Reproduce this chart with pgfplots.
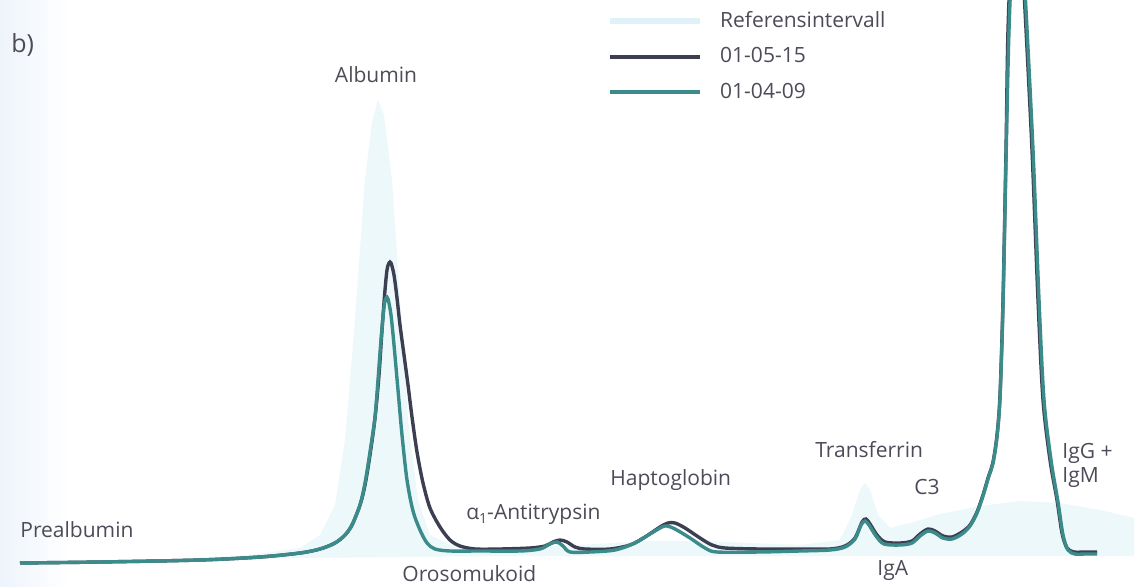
\documentclass[border=0pt]{standalone}
\usepackage{pgfplots}
\pgfplotsset{compat=1.18}
\usepackage{fontspec}
\setmainfont{Open Sans}
\definecolor{bgblue}{RGB}{238,244,251}
\definecolor{refcyan}{RGB}{237,248,251}
\definecolor{refline}{RGB}{222,242,247}
\definecolor{darkline}{RGB}{60,63,82}
\definecolor{tealline}{RGB}{59,139,138}
\definecolor{labelgray}{RGB}{75,76,88}

\begin{document}
\begin{tikzpicture}
\begin{axis}[
  scale only axis, width=567pt, height=293.5pt,
  xmin=0, xmax=1134, ymin=0, ymax=587, y dir=reverse,
  axis lines=none, clip mode=individual,
  legend cell align=left,
  legend image code/.code={\draw[#1] (0pt,0pt) -- (45pt,0pt); \path (51.5pt,0pt);},
  legend style={at={(axis cs:600,3)}, anchor=north west, draw=none, fill=none,
    font=\fontsize{10.5}{12}\selectfont\color{labelgray},
    row sep=4.6pt, nodes={inner sep=2pt}},
]
% paper background, slightly bluish at the left margin
\fill[left color=bgblue, right color=white] (axis cs:0,0) rectangle (axis cs:70,587);
\fill[white] (axis cs:70,0) rectangle (axis cs:1134,587);

% reference interval
\addplot[fill=refcyan, draw=none, forget plot] coordinates {
 (20,562) (150,560) (250,555) (300,548) (320,535) (335,505) (345,440) (355,320)
 (365,180) (372,122) (378,100) (384,115) (392,180) (400,300) (408,420) (418,500)
 (430,535) (450,545) (500,548) (560,546) (650,541) (700,541) (800,545) (840,540)
 (852,515) (860,490) (865,483) (870,490) (878,515) (890,528) (910,523) (940,514)
 (980,506) (1020,501) (1060,503) (1100,510) (1134,518)
 (1134,556) (1000,556) (800,556) (500,556) (300,558) (20,564)
} -- cycle;

\addlegendimage{refline, line width=3.4pt}
\addlegendentry{Referensintervall}
\addlegendimage{darkline, line width=1.9pt}
\addlegendentry{01-05-15}
\addlegendimage{tealline, line width=1.9pt}
\addlegendentry{01-04-09}

% 01-05-15
\addplot[darkline, line width=1.7pt, smooth, tension=0.5, forget plot] coordinates {
 (20,563) (100,562) (200,560) (260,557) (300,553) (320,549) (335,543) (345,535)
 (352,525) (360,505) (365,485) (370,455) (375,418) (379,375) (382,330) (385,290)
 (387,270) (389,263) (391,263) (394,275) (397,298) (400,325) (404,355) (408,385)
 (412,417) (417,452) (423,483) (430,508) (440,527) (450,540) (460,546) (475,549)
 (500,549) (530,548) (545,546) (553,542) (560,540) (567,542) (575,547) (585,549)
 (610,549) (630,545) (645,537) (660,527) (668,523) (675,523) (685,528) (700,538)
 (712,545) (725,548) (760,549) (800,549) (830,549) (845,546) (855,538) (862,522)
 (866,519) (870,524) (877,535) (885,542) (900,543) (912,541) (920,534) (928,529)
 (935,531) (943,536) (952,537) (962,532) (970,525) (977,512) (983,495) (988,478)
 (993,462) (997,435) (1000,395) (1003,300) (1006,150) (1008,30) (1012,-60)
 (1017,-90) (1021,-60) (1025,10) (1032,150) (1038,300) (1043,400) (1050,460)
 (1057,500) (1062,533) (1067,548) (1074,552) (1085,552) (1097,552)
};

% 01-04-09
\addplot[tealline, line width=1.7pt, smooth, tension=0.5, forget plot] coordinates {
 (20,563) (100,562) (200,560) (260,557) (300,553) (320,549) (335,543) (345,535)
 (352,525) (360,505) (365,483) (370,452) (375,417) (378,380) (381,340) (384,307)
 (386,298) (388,299) (391,315) (394,345) (398,390) (402,435) (407,480) (413,511)
 (420,530) (427,543) (435,549) (450,551) (480,551) (520,551) (540,549) (550,544)
 (557,542) (563,546) (570,552) (590,552) (615,550) (635,543) (650,534) (662,527)
 (667,526) (675,529) (690,538) (705,548) (717,552) (760,552) (800,551) (830,550)
 (845,547) (855,539) (861,525) (865,521) (869,525) (876,536) (884,544) (900,545)
 (912,543) (920,536) (928,531) (935,533) (943,538) (952,539) (962,534) (970,526)
 (977,513) (983,496) (988,479) (993,463) (997,437) (1000,398) (1003,305)
 (1006,160) (1009,30) (1013,-60) (1018,-90) (1022,-60) (1026,10) (1033,150)
 (1039,300) (1044,400) (1051,460) (1058,502) (1063,535) (1068,550) (1075,554)
 (1085,554) (1097,554)
};

% labels
\begin{scope}[every node/.style={font=\fontsize{10.5}{12}\selectfont, text=labelgray, inner sep=0pt}]
\node[anchor=west, font=\fontsize{12.5}{14}\selectfont] at (axis cs:11,45) {b)};
\node at (axis cs:376,75) {Albumin};
\node[anchor=west] at (axis cs:20,530) {Prealbumin};
\node[anchor=west] at (axis cs:402,574) {Orosomukoid};
\node[anchor=west] at (axis cs:466,514) {α\raisebox{-0.35ex}{\scriptsize 1}-Antitrypsin};
\node[anchor=west] at (axis cs:610,480) {Haptoglobin};
\node[anchor=west] at (axis cs:815,450) {Transferrin};
\node[anchor=west] at (axis cs:914,487) {C3};
\node[anchor=west] at (axis cs:877,570) {IgA};
\node[anchor=west, align=left] at (axis cs:1062,465) {IgG +\\IgM};
\end{scope}
\end{axis}
\end{tikzpicture}
\end{document}
